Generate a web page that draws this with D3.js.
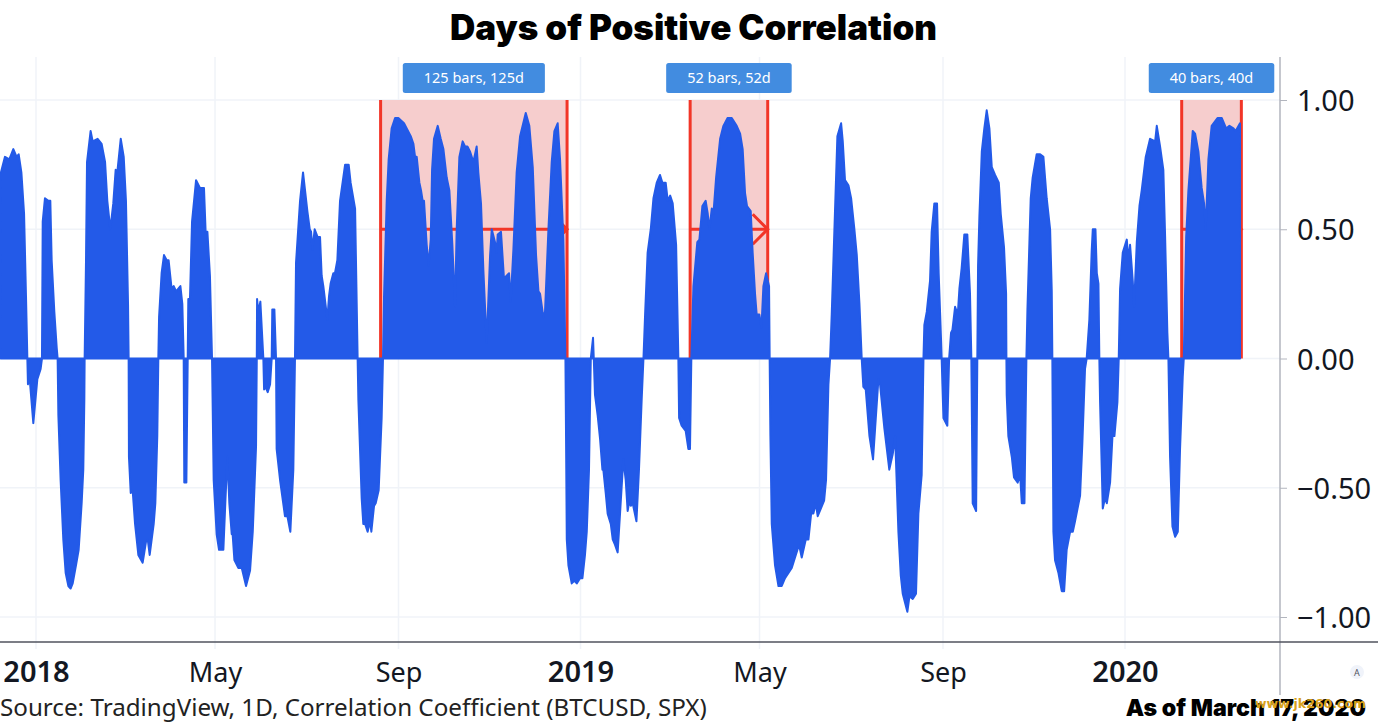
<!DOCTYPE html>
<html><head><meta charset="utf-8">
<script src="https://cdn.jsdelivr.net/npm/d3@7/dist/d3.min.js"></script>
<style>html,body{margin:0;padding:0;background:#fff;overflow:hidden}svg{display:block}</style>
</head><body><svg id="c" width="1378" height="724"></svg>
<script>
const chartTitle="Days of Positive Correlation";
const sourceNote="Source: TradingView, 1D, Correlation Coefficient (BTCUSD, SPX)";
const asOfNote="As of March 17, 2020";
const watermark="www.jk260.com";
const xTickDates=["2018-01-01","2018-05-01","2018-09-01","2019-01-01","2019-05-01","2019-09-01","2020-01-01"];
const xTickLabels=["2018","May","Sep","2019","May","Sep","2020"];
const yTickValues=[1,0.5,0,-0.5,-1];
const measureStartDays=[231,438.5,768];
const measureBars=[125,52,40];
const dayOffsets=[-23.5,-20.8,-17.9,-15.2,-13,-11.6,-9.8,-8,-6.7,-5.8,-5.4,-4.5,-1.8,.9,3.1,4,4.5,6,8.3,9.6,10.5,12.3,13.9,14.5,15,16.5,18.3,19.9,21.7,23.2,24.6,26.8,28.6,30.6,31.7,32.4,32.6,33.5,34.2,36.6,38,41.3,44,46.3,47.8,49.8,51.8,53.4,54.5,56.8,58.8,60.3,61.7,62.1,62.3,63.5,64.8,66.4,68.6,71.5,73.7,74.9,76.2,78.9,80,81.3,82,82.5,84.2,85.8,87.6,88.9,90.9,92.3,93.9,96.8,98.1,99,99.4,100.8,101.7,102.1,103.2,104.6,107.3,109.9,112.6,113.7,114.9,116.6,118,119.1,121.1,122.7,125.6,126.9,128.3,129.6,131.2,131.8,133,135.6,137.9,140.8,143.5,145.3,147.5,148,148.2,149,150.4,152.4,152.9,154,155.3,156.9,158,158.4,159.8,160.9,161.3,163.6,166.9,168.5,170.5,172.5,173.6,174.3,177,179,181.9,183.5,184.4,185.3,186.8,188.8,190.4,191.5,192.6,195.3,196.4,197.5,199.3,200.4,202,203.8,207.2,209.6,210.9,213.9,215.6,216.1,218.3,219.4,220.6,222.3,223.9,224.8,226.6,227.7,229.7,231.7,232.6,233.3,235.1,236.4,238.4,240.7,242.9,246.7,248.5,251.2,253,254.1,255.2,257,258.1,259.2,260.1,261.9,263.2,264.6,265.5,266.8,269.3,271.3,273.1,275.3,277.1,279.1,280.9,282,283.8,286,287.6,289.2,291,293.2,295.4,296.5,298.3,299.9,302.1,304.4,305.5,307.7,308.8,309.5,311.7,313.7,317.1,318.2,320,322.2,324.5,328.3,330.7,333,335.2,336.8,337.9,340.1,341.2,343.5,345.7,347.5,349.7,351.3,353.5,354.9,355.3,355.8,356.9,359.1,360.9,362.5,364.7,366.3,368,369.2,370.7,371.9,373.4,373.9,374.7,376.5,378.1,379.7,380.3,381.9,383.2,385.3,386.6,388.1,389.9,391.5,393.7,395.3,396.6,397.8,398.7,400,402.5,404.2,406,407.2,408.3,410,412.1,413.9,416.1,418.3,419.9,422.1,423.5,425.1,426.8,429.1,430.6,431.1,432.8,435.5,437.3,438.4,439.3,440.7,443.3,444.7,446.7,448.9,450.3,451.4,453,454.1,455.9,458.6,460.8,463.5,466.4,469.7,472,473.7,475.3,476.6,479.1,480.4,482,483.1,484.9,486.3,487.6,489.4,491.4,491.8,492.3,493.2,495.4,497.7,499.9,502.1,504.4,506.6,508.8,511.5,513.3,516,517.8,519.6,521.1,522.7,524,528.3,529.6,531.2,532.3,533.4,535.6,537.2,539.7,540.8,542.3,544.6,546.4,548.6,550.2,552,553.5,554.6,556.2,558.7,561.1,562.5,564.7,565.8,568.7,572,574.3,575.9,578.1,579.7,581,584.1,585.5,587.7,589.9,591.5,593.7,594.9,595.5,597.1,599.3,600.4,602.2,604,605.1,606.7,607.1,607.6,608.3,610.9,612.1,613.4,614.3,616.1,617.9,619,620.5,622.3,624.3,626.1,627,627.9,630.2,631,631.5,632.4,634,635.7,637.3,639.1,640.7,642.9,645.4,646.7,648.9,650.3,650.5,650.7,651.8,654.1,655.6,658.1,659.7,660.8,662.6,663.9,664.6,666.8,668.1,670.8,673.1,675.3,677.5,679.8,680.9,681.3,682,683.1,685.4,687.6,689.2,690.9,693.2,695,696.5,699.9,701.4,703.2,704.3,706.1,707.7,708.4,710.2,711.1,712.2,712.8,713.3,715.1,716.6,717.8,720,721.6,722.9,724.9,725.8,726.7,728.5,731.2,732.3,733.4,735.2,736.1,737.9,739.7,741.2,743.9,746.8,750.2,751.3,753.5,755.7,756.9,758.4,759.1,760.2,761.8,763.6,765.4,766.9,768.7,769.4,771,772.5,775.4,777,779.2,781.4,783,784.1,785.9,788.1,792,794.9,797.8,800,802.7,804.2,807.1];
const correlation=[.72,.78,.77,.81,.78,.79,.72,.56,.24,0,-.10,-.06,-.25,-.08,-.04,0,.53,.62,.61,.61,.38,.18,.04,0,-.22,-.47,-.70,-.83,-.88,-.89,-.87,-.80,-.74,-.56,-.43,-.16,0,.37,.76,.88,.84,.85,.83,.76,.61,.50,.60,.73,.72,.85,.78,.61,.21,0,-.38,-.52,-.51,-.64,-.76,-.79,-.71,-.70,-.76,-.64,-.56,-.30,0,.16,.33,.40,.38,.38,.27,.28,.26,.28,.21,0,-.48,-.48,0,.23,.23,.53,.69,.66,.66,.49,.49,.32,0,-.47,-.68,-.74,-.74,-.56,-.38,-.56,-.68,-.68,-.78,-.81,-.81,-.88,-.82,-.67,-.34,0,.23,.18,.22,0,-.12,-.11,-.13,-.10,0,.19,.19,0,-.35,-.47,-.61,-.61,-.67,-.43,0,.37,.61,.72,.57,.50,.49,.42,.50,.47,.47,.32,.28,.15,.24,.29,.33,.33,.38,.61,.75,.75,.68,.58,0,-.16,-.54,-.64,-.64,-.67,-.63,-.67,-.57,-.56,-.51,-.23,0,.24,.61,.77,.89,.93,.93,.91,.89,.86,.83,.78,.78,.68,.65,.61,.61,.44,.36,.46,.73,.85,.90,.85,.81,.70,.65,.44,.20,.50,.78,.84,.82,.82,.80,.76,.82,.72,.60,.34,.06,.40,.50,.45,.41,.48,.49,.31,.33,.22,.42,.72,.86,.95,.90,.74,.40,.26,.25,.16,.18,.50,.76,.88,.91,.77,.46,0,-.30,-.70,-.80,-.87,-.86,-.87,-.85,-.85,-.76,-.67,-.43,0,.08,0,-.14,-.22,-.31,-.43,-.43,-.52,-.60,-.64,-.70,-.72,-.75,-.60,-.39,-.47,-.59,-.55,-.57,-.56,-.63,-.43,-.16,0,.17,.41,.50,.62,.68,.71,.68,.68,.61,.63,.60,.44,0,-.23,-.26,-.28,-.35,-.35,0,.28,.45,.46,.59,.61,.56,.50,.58,.56,.70,.85,.90,.93,.93,.90,.87,.81,.64,.59,.57,.41,.25,.17,.17,.12,.28,.33,.28,0,-.30,-.64,-.80,-.88,-.88,-.85,-.83,-.81,-.77,-.72,-.77,-.70,-.70,-.60,-.60,-.56,-.61,-.55,-.47,-.10,0,.17,.57,.86,.91,.84,.69,.67,.62,.50,.40,.21,0,-.11,-.12,-.30,-.39,-.27,-.08,-.10,-.27,-.43,-.37,-.30,-.67,-.84,-.91,-.98,-.92,-.93,-.91,-.60,-.45,0,.13,.18,.30,.49,.60,.60,.33,.07,0,-.10,-.23,-.26,0,.10,.11,.20,.17,.27,.35,.48,.48,.25,0,-.56,-.59,0,.36,.55,.80,.89,.96,.89,.74,.71,.68,.56,.43,.25,0,-.14,-.30,-.38,-.46,-.48,-.45,-.56,-.56,0,.19,.62,.70,.79,.79,.78,.62,.50,.26,0,-.67,-.78,-.83,-.90,-.90,-.74,-.67,-.67,-.63,-.53,-.33,-.04,0,.15,.42,.50,.50,.33,.29,0,-.17,-.58,-.54,-.56,-.48,-.30,-.30,-.17,0,.27,.41,.46,.38,.44,.30,.20,.45,.59,.65,.78,.85,.84,.90,.82,.73,.47,.10,0,-.38,-.65,-.69,-.67,-.35,-.07,0,.47,.65,.88,.87,.80,.66,.60,.50,.77,.90,.93,.93,.89,.90,.89,.88,.91];

const DAY=864e5, origin=Date.UTC(2018,0,1);
const toDate=d=>new Date(origin+d*DAY);
const points=dayOffsets.map((d,i)=>({date:toDate(d),v:correlation[i]}));

const W=1378,H=724,axisX=1280,plotTop=57,plotBottom=642;
const x=d3.scaleUtc().domain([new Date(origin),new Date(Date.UTC(2020,0,1))]).range([36,1125]);
const y=d3.scaleLinear().domain([-1,1]).range([617,100]);
const svg=d3.select("#c");
const bodyFont="'Noto Sans','Open Sans',sans-serif";
const heavyFont="Inter,'Liberation Sans',sans-serif";

// grid
const tickDates=xTickDates.map(s=>new Date(s+"T00:00:00Z"));
svg.append("g").selectAll("line").data(tickDates).join("line")
  .attr("x1",d=>x(d)).attr("x2",d=>x(d)).attr("y1",plotTop).attr("y2",649)
  .attr("stroke","#f0f3f8").attr("stroke-width",1.5);
svg.append("g").selectAll("line").data(yTickValues).join("line")
  .attr("x1",0).attr("x2",axisX).attr("y1",d=>y(d)).attr("y2",d=>y(d))
  .attr("stroke","#f0f3f8").attr("stroke-width",1.5);

// measure tools under the series
const red="#f23527";
const measures=measureStartDays.map((s,i)=>({a:toDate(s),b:toDate(s+measureBars[i]),n:measureBars[i]}));
const mg=svg.append("g");
measures.forEach(m=>{
  const xa=x(m.a),xb=x(m.b),ym=y(.5),l=15;
  mg.append("rect").attr("x",xa).attr("y",y(1)).attr("width",xb-xa).attr("height",y(0)-y(1)).attr("fill","#f6cdcd");
  [xa,xb].forEach(v=>mg.append("line").attr("x1",v).attr("x2",v).attr("y1",y(1)).attr("y2",y(0)).attr("stroke",red).attr("stroke-width",3));
  mg.append("line").attr("x1",xa).attr("x2",xb).attr("y1",ym).attr("y2",ym).attr("stroke",red).attr("stroke-width",3);
  mg.append("path").attr("d",`M${xb-l},${ym-l}L${xb},${ym}L${xb-l},${ym+l}`).attr("fill","none").attr("stroke",red).attr("stroke-width",3);
});

// series
const area=d3.area().x(d=>x(d.date)).y0(y(0)).y1(d=>y(d.v));
svg.append("path").datum(points).attr("d",area).attr("fill","#235ae8").attr("stroke","#235ae8").attr("stroke-width",2).attr("stroke-linejoin","round");

// measure labels
measures.forEach(m=>{
  const cx=(x(m.a)+x(m.b))/2, t=`${m.n} bars, ${m.n}d`;
  const g=svg.append("g");
  const txt=g.append("text").attr("x",cx).attr("y",83).attr("text-anchor","middle").attr("fill","#fff")
    .attr("font-family",bodyFont).attr("font-size",14.5).text(t);
  const w=txt.node().getComputedTextLength()+42;
  g.insert("rect","text").attr("x",cx-w/2).attr("y",63).attr("width",w).attr("height",30).attr("rx",2.5).attr("fill","#428ce0");
});

// axes
const yAxis=d3.axisRight(y).tickValues(yTickValues).tickFormat(d3.format(".2f")).tickSize(7).tickPadding(10);
const ya=svg.append("g").attr("transform",`translate(${axisX},0)`).call(yAxis);
ya.select(".domain").remove();
ya.append("line").attr("x1",0).attr("x2",0).attr("y1",plotTop).attr("y2",695).attr("stroke","#b2b5be").attr("stroke-width",1.5);
ya.selectAll(".tick line").attr("stroke","#b2b5be");
ya.selectAll("text").attr("fill","#131722").attr("font-family",bodyFont).attr("font-size",29).attr("dy","0.37em");

const xAxis=d3.axisBottom(x).tickValues(tickDates).tickFormat((d,i)=>xTickLabels[i]).tickSize(0);
const xa=svg.append("g").attr("transform",`translate(0,${plotBottom})`).call(xAxis);
xa.select(".domain").remove();
xa.selectAll("text").attr("fill","#131722").attr("font-family",bodyFont).attr("y",40).attr("dy",0)
  .each(function(d,i){
    const isYear=/^\d/.test(xTickLabels[i]);
    d3.select(this).attr("font-size",isYear?29:27).attr("font-weight",isYear?600:400);
  });
svg.append("line").attr("x1",0).attr("x2",W).attr("y1",plotBottom).attr("y2",plotBottom).attr("stroke","#50535e").attr("stroke-width",1.5);

// auto badge
svg.append("circle").attr("cx",1357).attr("cy",672).attr("r",7).attr("fill","#f0f3fa");
svg.append("text").attr("x",1357).attr("y",675.5).attr("text-anchor","middle").attr("font-size",9).attr("font-family",bodyFont).attr("fill","#50535e").text("A");

// text
svg.append("text").attr("x",693.5).attr("y",40).attr("text-anchor","middle").attr("font-family",heavyFont).attr("font-weight",900).attr("font-size",35).attr("fill","#000").text(chartTitle);
svg.append("text").attr("x",0).attr("y",716).attr("font-family",bodyFont).attr("font-size",24.2).attr("fill","#222").text(sourceNote);
svg.append("text").attr("x",1366).attr("y",716).attr("text-anchor","end").attr("font-family",heavyFont).attr("font-weight",900).attr("font-size",23.2).attr("fill","#000").text(asOfNote);
svg.append("text").attr("x",1366).attr("y",708).attr("text-anchor","end").attr("font-family","'DejaVu Sans',sans-serif").attr("font-weight",700).attr("font-size",12.5).attr("fill","#d9a21b").text(watermark);
</script></body></html>
